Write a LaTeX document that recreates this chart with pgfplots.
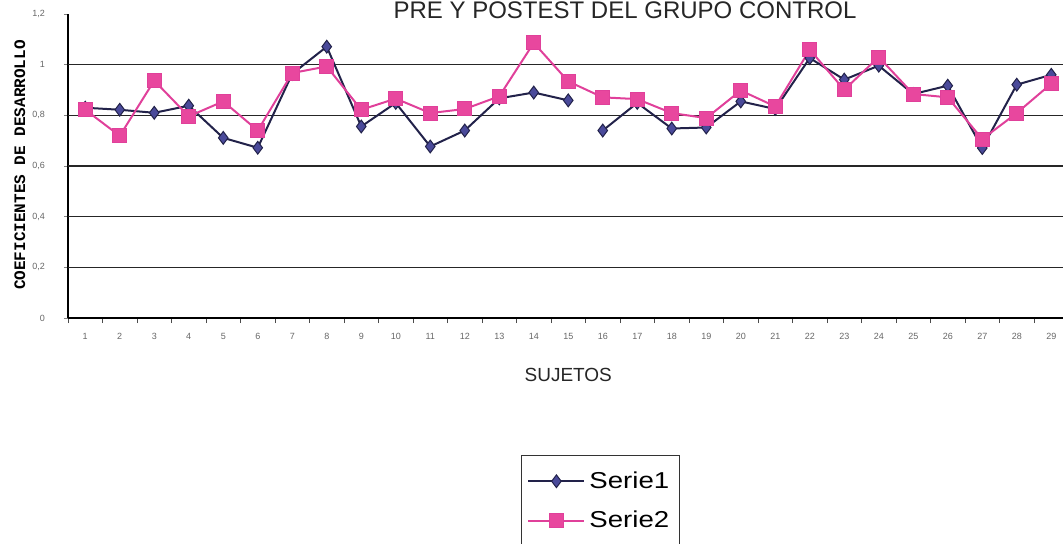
\documentclass[border=0pt]{standalone}
\usepackage{fontspec}
\setmainfont{Liberation Sans}
\newfontfamily\monob{Liberation Mono}
\newfontfamily\legfont[FakeStretch=1.2]{Liberation Sans}
\usepackage{pgfplots}
\pgfplotsset{compat=1.18}

\definecolor{sonefill}{HTML}{4A4A9A}
\definecolor{soneline}{HTML}{22224A}
\definecolor{stwofill}{HTML}{E8479E}
\definecolor{stwoline}{HTML}{E0409A}

\begin{document}
\begin{tikzpicture}
\path[use as bounding box] (0pt,0pt) rectangle (531.5pt,-272pt);
\clip (0pt,0pt) rectangle (531.5pt,-272pt);
\begin{axis}[
  at={(34pt,-159pt)}, anchor=south west,
  scale only axis, width=500.25pt, height=152pt,
  xmin=0.5, xmax=29.5, ymin=0, ymax=1.2,
  axis x line=bottom, axis y line=left,
  x axis line style={-}, y axis line style={-},
  axis line style={black, line width=0.8pt},
  xtick={1,...,29}, major x tick style={draw=none},
  minor xtick={0.5,1.5,...,29.5},
  minor x tick style={black!70, line width=0.4pt},
  minor tick length=2.5pt,
  ytick={0,0.2,0.4,0.6,0.8,1,1.2},
  yticklabels={0,{0,2},{0,4},{0,6},{0,8},1,{1,2}},
  major tick length=2pt, tick align=outside,
  extra y ticks={0.2,0.4,0.6,0.8,1},
  extra y tick labels={},
  extra y tick style={grid=major, major tick length=0pt},
  grid style={black!85, line width=0.7pt},
  /pgf/number format/assume math mode=true,
  tick label style={font=\fontsize{4.5}{5}\selectfont, text=black!60},
  xticklabel style={yshift=-2pt},
  yticklabel style={xshift=-6pt},
  title={PRE Y POSTEST DEL GRUPO CONTROL},
  title style={at={(0.5567,0.9441)}, anchor=base, yshift=0pt, font=\fontsize{12}{14}\selectfont, text=black!85},
  xlabel={SUJETOS},
  xlabel style={at={(0.5,-0.2105)}, anchor=base, font=\fontsize{9.5}{11}\selectfont, text=black!85},
  ylabel={COEFICIENTES DE DESARROLLO},
  ylabel style={at={(-0.048,0.503)}, anchor=center, rotate=0, font=\monob\bfseries\fontsize{8}{9}\selectfont},
  unbounded coords=jump,
  legend style={at={(0.4528,-0.4507)}, anchor=north west, draw=black!80,
    font=\legfont\fontsize{11.5}{13}\selectfont, inner xsep=3pt, inner ysep=6pt,
    row sep=6pt},
  legend cell align=left,
  legend image code/.code={\draw[mark repeat=2,mark phase=2,#1] plot coordinates {(0pt,0pt) (14pt,0pt) (28pt,0pt)};},
]
\addplot[color=soneline, line width=1pt, mark=diamond*, mark size=3.2pt,
  mark options={fill=sonefill, draw=soneline, line width=0.5pt}]
coordinates {
(1,0.830) (2,0.822) (3,0.810) (4,0.838) (5,0.711) (6,0.672) (7,0.964)
(8,1.071) (9,0.756) (10,0.849) (11,0.677) (12,0.740) (13,0.867) (14,0.890)
(15,0.859) (15.5,nan) (16,0.740) (17,0.849) (18,0.748) (19,0.752) (20,0.855)
(21,0.825) (22,1.026) (23,0.941) (24,0.996) (25,0.884) (26,0.917) (27,0.671)
(28,0.921) (29,0.960)
};
\addlegendentry{Serie1}
\addplot[color=stwoline, line width=1pt, mark=square*, mark size=3.5pt,
  mark options={fill=stwofill, draw=stwoline, line width=0.5pt}]
coordinates {
(1,0.822) (2,0.719) (3,0.937) (4,0.796) (5,0.855) (6,0.740) (7,0.967)
(8,0.993) (9,0.822) (10,0.866) (11,0.809) (12,0.825) (13,0.875) (14,1.086)
(15,0.934) (16,0.871) (17,0.864) (18,0.809) (19,0.789) (20,0.898)
(21,0.835) (22,1.059) (23,0.901) (24,1.030) (25,0.884) (26,0.871) (27,0.706)
(28,0.809) (29,0.925)
};
\addlegendentry{Serie2}
\end{axis}
\end{tikzpicture}
\end{document}
